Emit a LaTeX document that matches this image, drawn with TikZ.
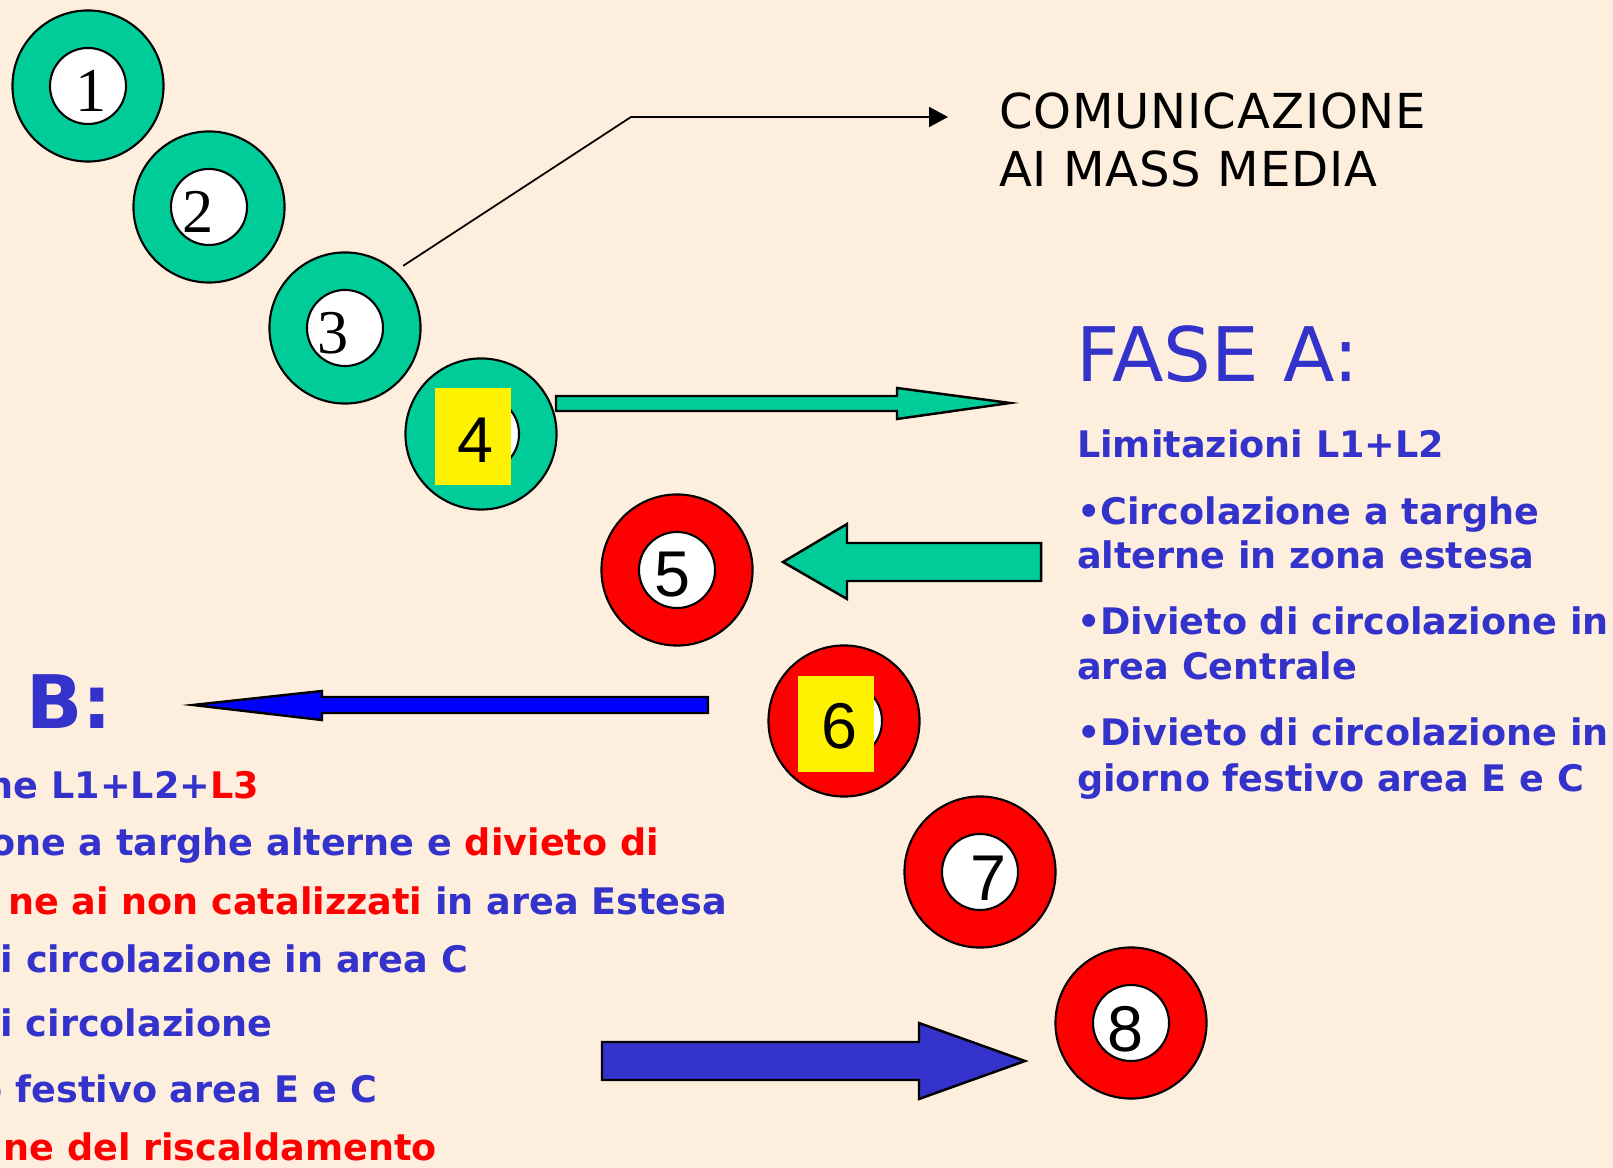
\documentclass[tikz,border=0pt]{standalone}
\usepackage{fontspec}
\setmainfont{DejaVu Sans}
\newfontfamily\serifnum{Liberation Serif}
\newfontfamily\sansnum{Liberation Sans}
\newfontfamily\comfont[LetterSpace=1.8]{DejaVu Sans}
\usetikzlibrary{arrows.meta,positioning}
\definecolor{sfondo}{RGB}{254,238,222}
\definecolor{verde}{RGB}{0,204,153}
\definecolor{blutesto}{RGB}{51,51,204}
\definecolor{blupieno}{RGB}{0,0,255}
\newcommand{\crosso}[1]{\textcolor{red}{#1}}

\begin{document}
\begin{tikzpicture}[x=0.01cm,y=-0.01cm,line width=0.6pt]
  \tikzstyle{anello}=[circle,draw=black,line width=0.6pt,minimum size=1.51cm,inner sep=0pt]
  \tikzstyle{buco}=[circle,draw=black,fill=white,line width=0.6pt,minimum size=0.76cm,inner sep=0pt]
  \tikzstyle{cifrat}=[inner sep=0pt,font=\serifnum\fontsize{17.7}{18}\selectfont]
  \tikzstyle{cifraa}=[inner sep=0pt,font=\sansnum\fontsize{18.4}{19}\selectfont]
  \tikzstyle{freccia}=[draw=black,line width=0.7pt,line join=miter]
  \tikzstyle{riga}=[inner sep=0pt,text=blutesto,font=\bfseries\fontsize{10.4}{12}\selectfont]
  \tikzstyle{titolo}=[inner sep=0pt,text=blutesto,font=\fontsize{21.4}{24}\selectfont]

  \useasboundingbox (0,0) rectangle (1613,1168);
  \clip (0,0) rectangle (1613,1168);
  \fill[sfondo] (0,0) rectangle (1613,1168);

  % anelli verdi
  \node[anello,fill=verde] (r1) at (88,86)   {};
  \node[anello,fill=verde] (r2) at (209,207) {};
  \node[anello,fill=verde] (r3) at (345,328) {};
  \node[anello,fill=verde] (r4) at (481,434) {};
  \node[buco] (b1) at (r1) {};
  \node[buco] (b2) at (r2) {};
  \node[buco] (b3) at (r3) {};
  \node[buco] (b4) at (r4) {};
  % anelli rossi
  \node[anello,fill=red] (r5) at (677,570)   {};
  \node[anello,fill=red] (r6) at (844,721)   {};
  \node[anello,fill=red] (r7) at (980,872)   {};
  \node[anello,fill=red] (r8) at (1131,1023) {};
  \node[buco] (b5) at (r5) {};
  \node[buco] (b6) at (r6) {};
  \node[buco] (b7) at (r7) {};
  \node[buco] (b8) at (r8) {};

  \fill[yellow] ([shift={(-46,-46)}]r4) rectangle ([shift={(30,51)}]r4);
  \fill[yellow] ([shift={(-46,-45)}]r6) rectangle ([shift={(30,51)}]r6);

  \node[cifrat] (n1) at ([shift={(3,5)}]r1)   {1};
  \node[cifrat] (n2) at ([shift={(-11,5)}]r2) {2};
  \node[cifrat] (n3) at ([shift={(-12,5)}]r3) {3};
  \node[cifraa] (n4) at ([shift={(-6,6)}]r4)  {4};
  \node[cifraa] (n5) at ([shift={(-5,5)}]r5)  {5};
  \node[cifraa] (n6) at ([shift={(-5,5)}]r6)  {6};
  \node[cifraa] (n7) at ([shift={(8,6)}]r7)   {7};
  \node[cifraa] (n8) at ([shift={(-6,6)}]r8)  {8};

  % comunicazione
  \node[anchor=base west,inner sep=0pt,font=\comfont\fontsize{13.7}{16}\selectfont] (com1) at (998,129) {COMUNICAZIONE};
  \node[anchor=base west,inner sep=0pt,font=\comfont\fontsize{13.7}{16}\selectfont] (com2) at (998,187) {AI MASS MEDIA};
  \coordinate (gomito) at (631,117);
  \coordinate (punta) at (948,117);
  \draw[line width=0.5pt,-{Triangle[length=0.19cm,width=0.2cm]}] ([shift={(4,-8)}]r3.north east) -- (gomito) -- (punta);

  % fase A
  \node[titolo,anchor=base west] (faseA) at (1075,382) {FASE A:};
  \node[riga,anchor=base west] (a1) at (1076,458) {Limitazioni L1+L2};
  \node[riga,anchor=base west] (a2) at (1076,525) {•Circolazione a targhe};
  \node[riga,anchor=base west] (a3) at (1076,569) {alterne in zona estesa};
  \node[riga,anchor=base west] (a4) at (1076,635) {•Divieto di circolazione in};
  \node[riga,anchor=base west] (a5) at (1076,680) {area Centrale};
  \node[riga,anchor=base west] (a6) at (1076,746) {•Divieto di circolazione in};
  \node[riga,anchor=base west] (a7) at (1076,791) {giorno festivo area E e C};

  % fase B
  \node[titolo,font=\bfseries\fontsize{21}{24}\selectfont,anchor=base west] (faseB) at (25,729) {B:};
  \node[riga,anchor=base east] (l1) at (260,799)  {ne L1+L2+\crosso{L3}};
  \node[riga,anchor=base east] (l2) at (660,856)  {one a targhe alterne e \crosso{divieto di}};
  \node[riga,anchor=base east] (l3) at (728,914)  {\crosso{ne ai non catalizzati} in area Estesa};
  \node[riga,anchor=base east] (l4) at (469,972)  {i circolazione in area C};
  \node[riga,anchor=base east] (l5) at (273,1036) {i circolazione};
  \node[riga,anchor=base east] (l6) at (378,1102) {o festivo area E e C};
  \node[riga,anchor=base east,text=red] (l7) at (438,1160) {ne del riscaldamento};

  % frecce piene
  \filldraw[freccia,fill=verde] (556,396) -- (897,396) -- (897,388) -- (1010,403) -- (897,419) -- (897,411) -- (556,411) -- cycle;
  \filldraw[freccia,fill=verde] (1041,543) -- (847,543) -- (847,524) -- (783,562) -- (847,599) -- (847,581) -- (1041,581) -- cycle;
  \filldraw[freccia,fill=blupieno] (708,697) -- (322,697) -- (322,691) -- (193,705) -- (322,720) -- (322,713) -- (708,713) -- cycle;
  \filldraw[freccia,fill=blutesto] (602,1042) -- (919,1042) -- (919,1023) -- (1025,1061) -- (919,1099) -- (919,1080) -- (602,1080) -- cycle;
\end{tikzpicture}
\end{document}
